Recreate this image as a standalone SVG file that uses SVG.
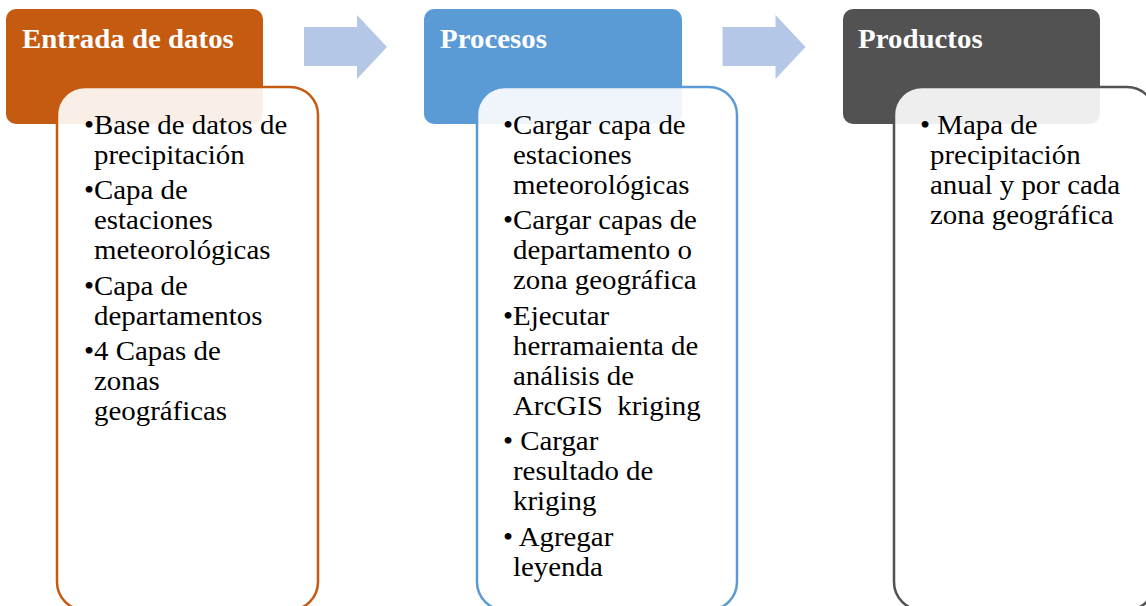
<svg xmlns="http://www.w3.org/2000/svg" width="1146" height="606" viewBox="0 0 1146 606">
<style>
.h{font-family:"Liberation Serif","Times New Roman",serif;font-size:27px;font-weight:bold;fill:#ffffff}
.t{font-family:"Liberation Serif","Times New Roman",serif;font-size:27px;fill:#000000}
.card{fill:#ffffff;fill-opacity:0.9;stroke-width:2.5}
.arrow{fill:#B4C7E7}
</style>
<rect width="1146" height="606" fill="#ffffff"/>
<g id="connectors">
<path class="arrow" d="M304,27 H357 V15 L387,47 L357,79 V66 H304 Z"/>
<path class="arrow" d="M722.5,27 H775.5 V15 L805.5,47 L775.5,79 V66 H722.5 Z"/>
</g>
<g id="node-entrada">
<rect x="6" y="9" width="257" height="115" rx="10" fill="#C55A11"/>
<text class="h" transform="translate(22,48) scale(1.07,1)">Entrada de datos</text>
<rect class="card" x="57" y="87" width="261" height="523" rx="28" stroke="#C55A11"/>
<g transform="translate(94,0) scale(1.07,1)">
<text class="t" x="-9.45" y="134">•Base de datos de</text>
<text class="t" x="0" y="164">precipitación</text>
<text class="t" x="-9.45" y="199.5">•Capa de</text>
<text class="t" x="0" y="229.5">estaciones</text>
<text class="t" x="0" y="259.5">meteorológicas</text>
<text class="t" x="-9.45" y="295">•Capa de</text>
<text class="t" x="0" y="325">departamentos</text>
<text class="t" x="-9.45" y="360.5">•4 Capas de</text>
<text class="t" x="0" y="390.5">zonas</text>
<text class="t" x="0" y="420.5">geográficas</text>
</g>
</g>
<g id="node-procesos">
<rect x="424" y="9" width="258" height="115" rx="10" fill="#5B9BD5"/>
<text class="h" transform="translate(440,48) scale(1.07,1)">Procesos</text>
<rect class="card" x="477" y="87" width="260" height="523" rx="28" stroke="#5B9BD5"/>
<g transform="translate(513,0) scale(1.07,1)">
<text class="t" x="-9.45" y="134">•Cargar capa de</text>
<text class="t" x="0" y="164">estaciones</text>
<text class="t" x="0" y="194">meteorológicas</text>
<text class="t" x="-9.45" y="229.5">•Cargar capas de</text>
<text class="t" x="0" y="259.5">departamento o</text>
<text class="t" x="0" y="289.5">zona geográfica</text>
<text class="t" x="-9.45" y="325">•Ejecutar</text>
<text class="t" x="0" y="355">herramaienta de</text>
<text class="t" x="0" y="385">análisis de</text>
<text class="t" x="0" y="415" xml:space="preserve">ArcGIS  kriging</text>
<text class="t" x="-9.45" y="450.5">• Cargar</text>
<text class="t" x="0" y="480.5">resultado de</text>
<text class="t" x="0" y="510.5">kriging</text>
<text class="t" x="-9.45" y="546">• Agregar</text>
<text class="t" x="0" y="576">leyenda</text>
</g>
</g>
<g id="node-productos">
<rect x="843" y="9" width="257" height="115" rx="10" fill="#525252"/>
<text class="h" transform="translate(858,48) scale(1.07,1)">Productos</text>
<rect class="card" x="894" y="87" width="261" height="523" rx="28" stroke="#525252"/>
<g transform="translate(930,0) scale(1.07,1)">
<text class="t" x="-9.45" y="134">• Mapa de</text>
<text class="t" x="0" y="164">precipitación</text>
<text class="t" x="0" y="194">anual y por cada</text>
<text class="t" x="0" y="224">zona geográfica</text>
</g>
</g>
</svg>
